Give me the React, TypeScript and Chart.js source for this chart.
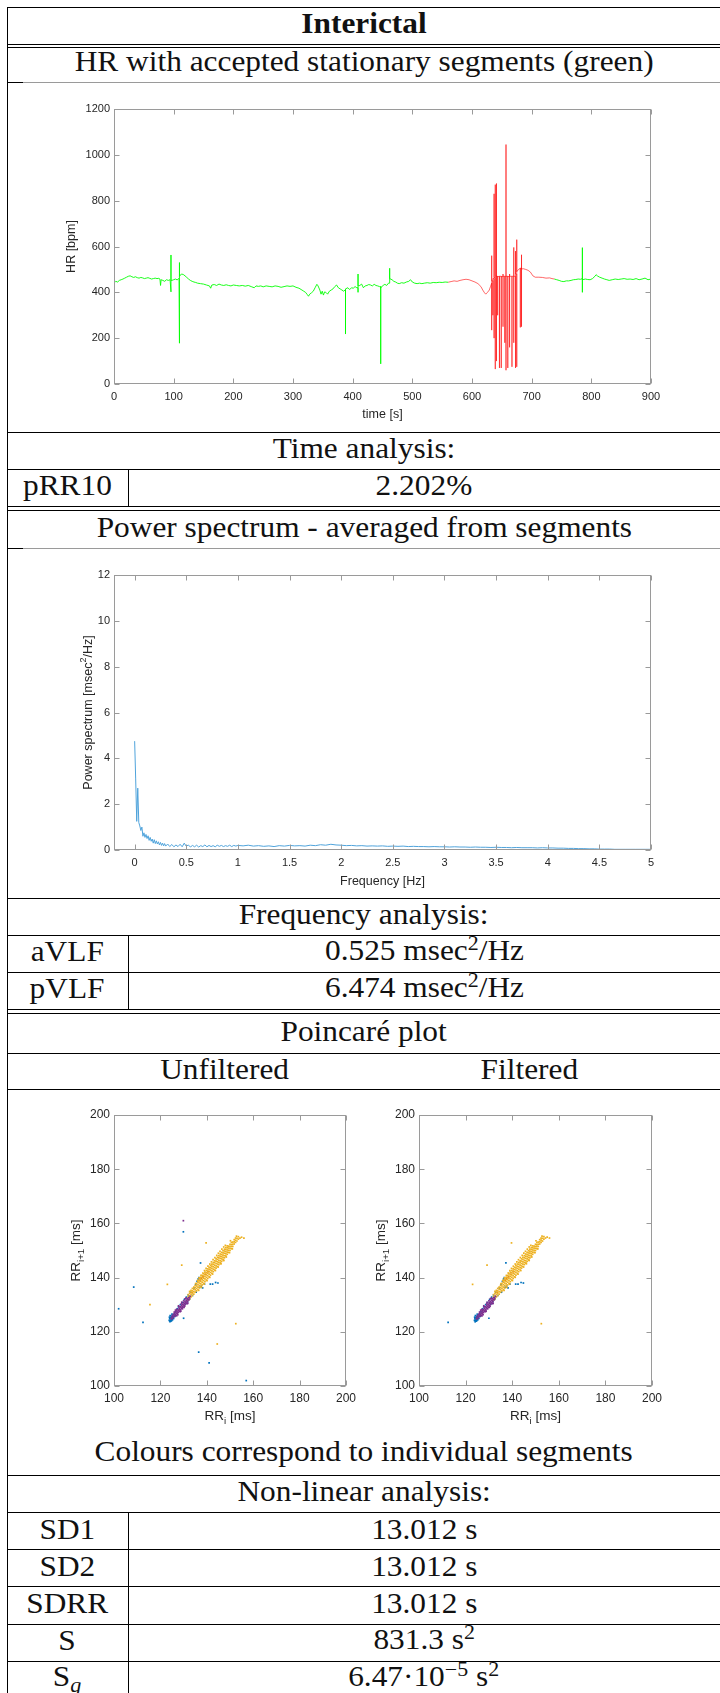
import React, { useEffect, useRef } from 'react';
import { Chart, registerables } from 'chart.js';

Chart.register(...registerables);

// ---------------- DATA ----------------
// HR trace [time s, HR bpm]
const hrGreenA: number[][] = [
  [0,440],[3,448],[6,445],[9,452],[12,455],[15,458],[18,462],[21,466],[24,470],[27,472],[30,468],[33,465],[36,468],[39,464],[42,462],[45,465],[48,463],[51,460],[54,462],[57,464],[60,461],[63,458],[66,460],[69,462],[72,460],[75,461],[77,458],[78,430],[79,455],[82,452],[85,448],[88,455],[91,452],[94,455],[95.5,455],[95.5,563],[95.5,402],[95.5,452],[97,452],[100,455],[103,458],[106,454],[108,460],[109,460],[109,178],[109,530],[110,250],[110,525],[110.5,470],[113,480],[116,478],[119,472],[122,465],[125,458],[128,452],[131,448],[134,445],[137,443],[140,440],[145,438],[150,436],[155,432],[160,428],[162,418],[164,432],[168,434],[172,430],[176,436],[180,432],[184,430],[188,433],[192,430],[196,428],[200,432],[205,430],[210,428],[215,430],[220,427],[225,430],[230,425],[235,420],[238,428],[242,426],[246,428],[250,424],[255,428],[260,426],[265,424],[270,428],[275,426],[280,422],[285,425],[290,428],[295,426],[300,428],[305,422],[310,418],[315,410],[318,405],[321,400],[324,390],[326,383],[328,392],[331,398],[334,405],[337,420],[340,435],[342,428],[345,410],[347,392],[349,405],[351,388],[353,402],[355,400],[358,392],[361,405],[364,410],[367,415],[370,425],[373,432],[376,420],[379,415],[382,410],[385,405],[388,412],[388,218],[388,415],[392,420],[395,412],[398,420],[401,418],[404,425],[407,420],[409,420],[409,480],[409,400],[409,428],[412,430],[415,436],[418,420],[421,428],[424,430],[427,434],[430,432],[433,428],[436,435],[439,430],[442,428],[445,425],[447,425],[447,88],[447,420],[451,430],[454,435],[457,430],[460,440],[462,440],[462,505],[462,460],[466,455],[469,448],[472,445],[475,440],[478,438],[482,442],[486,440],[490,445],[494,448],[497,455],[500,445],[504,440],[508,438],[512,440],[516,438],[520,440],[525,442],[530,440],[535,443],[540,442],[545,444],[550,443],[555,445],[560,444]
];
const hrRed: number[][] = [
  [560,444],[565,447],[570,450],[575,448],[580,452],[585,455],[590,457],[595,455],[600,450],[605,445],[610,438],[615,425],[618,410],[621,398],[623,392],[626,400],[629,410],[631,425],
  [633,440],[633,560],[633,235],[633,450],[635,450],[635,300],[635,460],[637,460],[637,830],[637,200],[637,465],[639,465],[639,870],[639,65],[639,470],[641,470],[641,875],[641,100],[641,470],
  [643,470],[643,300],[643,468],[646,470],[646,70],[646,470],[649,470],[649,70],[649,468],[652,470],[652,480],[652,250],[652,470],[655,470],[655,180],[655,470],[657,470],[657,1045],[657,60],[657,470],
  [660,470],[660,70],[660,468],[663,470],[663,480],[663,160],[663,470],[667,470],[667,75],[667,470],[670,470],[670,596],[670,180],[670,470],[673,470],[673,580],[673,70],[673,480],[675,480],[675,630],[675,75],[675,490],
  [678,500],[681,505],[681,247],[681,505],[683,505],[683,564],[683,250],[683,502],[686,503],[690,500],[694,496],[698,488],[702,472],[706,466],[712,466],[718,465],[724,462],[730,463],[734,460],[738,458]
];
const hrGreenB: number[][] = [
  [738,458],[742,455],[746,452],[750,448],[754,447],[758,450],[762,450],[766,452],[770,455],[774,456],[778,458],[782,457],[785,460],[785,595],[785,400],[785,455],[790,458],[794,456],[798,455],[802,460],[806,470],[808,477],[810,472],[814,466],[818,462],[822,458],[826,455],[830,452],[835,455],[840,458],[845,456],[850,458],[855,460],[860,457],[865,458],[870,456],[875,460],[880,455],[885,458],[890,462],[895,455],[900,458]
];
const hrXTicks = [0, 100, 200, 300, 400, 500, 600, 700, 800, 900];
const hrYTicks = [0, 200, 400, 600, 800, 1000, 1200];

// Power spectrum
const psdFreq: number[] = [
  0,0.01,0.02,0.03,0.04,0.05,0.06,0.07,0.08,0.09,0.1,0.11,0.12,0.13,0.14,0.15,0.16,0.17,0.18,0.19,0.2,0.21,0.22,0.23,0.24,0.25,0.26,0.27,0.28,0.29,0.3,
  0.32,0.34,0.36,0.38,0.4,0.42,0.44,0.46,0.48,0.5,0.52,0.54,0.56,0.58,0.6,0.62,0.64,0.66,0.68,0.7,0.72,0.74,0.76,0.78,0.8,0.82,0.84,0.86,0.88,0.9,0.92,0.94,0.96,0.98,1.0,
  1.05,1.1,1.15,1.2,1.25,1.3,1.35,1.4,1.45,1.5,1.55,1.6,1.65,1.7,1.75,1.8,1.85,1.9,1.95,2.0,2.05,2.1,2.15,2.2,2.25,2.3,2.35,2.4,2.45,2.5,2.55,2.6,2.65,2.7,2.75,2.8,2.85,2.9,2.95,3.0,
  3.05,3.1,3.15,3.2,3.25,3.3,3.35,3.4,3.45,3.5,3.55,3.6,3.65,3.7,3.75,3.8,3.85,3.9,3.95,4.0,4.05,4.1,4.15,4.2,4.25,4.3,4.35,4.4,4.45,4.5,4.55,4.6,4.65,4.7,4.75,4.8,4.85,4.9,4.95,5.0
];
const psdPower: number[] = [
  4.75,3.1,1.25,2.7,1.2,1.05,0.85,1.0,0.6,0.75,0.55,0.68,0.5,0.62,0.42,0.55,0.38,0.48,0.3,0.45,0.28,0.4,0.26,0.36,0.22,0.33,0.2,0.3,0.18,0.28,0.17,
  0.26,0.15,0.24,0.14,0.22,0.15,0.25,0.14,0.3,0.16,0.22,0.13,0.2,0.14,0.21,0.13,0.19,0.15,0.22,0.14,0.2,0.15,0.19,0.14,0.21,0.16,0.2,0.15,0.19,0.16,0.21,0.15,0.2,0.17,0.2,
  0.18,0.21,0.17,0.19,0.16,0.18,0.15,0.19,0.17,0.2,0.18,0.19,0.17,0.21,0.19,0.23,0.21,0.25,0.22,0.21,0.19,0.2,0.18,0.19,0.17,0.18,0.17,0.18,0.16,0.17,0.16,0.17,0.15,0.16,0.15,0.15,0.14,0.15,0.14,0.14,
  0.13,0.14,0.13,0.13,0.12,0.13,0.12,0.12,0.11,0.12,0.11,0.11,0.1,0.11,0.1,0.1,0.1,0.09,0.1,0.09,0.09,0.08,0.08,0.07,0.07,0.06,0.06,0.05,0.05,0.04,0.04,0.04,0.03,0.03,0.03,0.03,0.03,0.03,0.03,0.03
];
const psdXTicks = [0, 0.5, 1, 1.5, 2, 2.5, 3, 3.5, 4, 4.5, 5];
const psdYTicks = [0, 2, 4, 6, 8, 10, 12];

// Poincaré [RR_i, RR_i+1] in ms
const poincareTicks = [100, 120, 140, 160, 180, 200];
const blueCore: number[][] = [
  [123.8,124.2],[124,124.8],[124.1,123.7],[124.3,125.2],[124.4,124.3],[124.5,123.9],[124.6,125.4],[124.7,124.7],[124.8,124.1],[124.9,125.8],[125,125],[125.2,124.4],[125.3,125.7],[125.4,125.2],[125.6,126.3],[125.7,124.9],[125.9,125.8],[126.1,126.6],[126.3,125.7],[123.9,125.4],[124.2,126],[125,126.5],
  [126.6,127.4],[127.3,128.5],[127.8,129.2],[128.6,130],[129.4,130.8],[130.3,131.9],[131.2,132.8],[132,133.6],[130.8,130.2],[131.7,131.1],[132.6,132.1],[133,134.6],[133.8,133.4],[134.5,136.2],[135.2,137.4],[135.8,138.6],[136.3,139.5],[136.9,136.4],[137.6,136.8],[138.2,136.2],[139,137.6],[141.5,137.6],[143.8,138.2],[142.5,137.6],[144.8,138],[135.4,134.6],[136.6,140]
];
const blueKept: number[][] = [[112.5,123.5],[130,125],[137.3,145.4]];
const blueRemoved: number[][] = [[102,128.5],[108.5,136.5],[129.9,156.9],[136.5,112.5],[141,108.5],[157,102]];
const purpleCore: number[][] = [
  [124.6,124.9],[124.9,125.6],[125.1,124.8],[125.3,126.1],[125.5,125.3],[125.7,126.5],[125.9,125.6],[126.1,126.9],[126.2,125.9],[126.4,126.4],[126.6,127.3],[126.7,126.1],[126.9,126.9],[127.1,127.7],[127.2,126.6],[127.4,127.3],[127.6,128.2],[127.7,127.1],[127.9,127.8],[128.1,128.7],[128.2,127.6],[128.4,128.3],[128.6,129.2],[128.7,128.1],[128.9,128.9],[129.1,129.7],[129.2,128.6],[129.4,129.4],[129.6,130.2],[129.7,129.1],[129.9,129.9],[130.1,130.7],[130.2,129.6],[130.4,130.4],[130.6,131.2],[130.7,130.1],[130.9,130.9],[131.1,131.7],[131.2,130.6],[131.4,131.4],[131.6,132.2],[131.7,131.1],[131.9,131.9],[132.1,132.6],[132.3,131.8],[132.5,132.5],[132.8,133.1],
  [127,128.3],[128,129.3],[129,130.3],[130,131.4],[131,132.4],[126,127.3],[128.5,127.4],[129.5,128.5],[130.5,129.5],[131.5,130.4],[127.5,126.3],
  [126.5,128],[127.8,129.6],[129.2,130.9],[130.6,132.2],[127,125.9],[128.8,127.6],[130.2,129],[131.8,130.5]
];
const purpleRemoved: number[][] = [[129.9,161]];
const yellowCore: number[][] = [
  [132,131.8],[132,132.9],[132,133.7],
  [132.6,132.1],[132.6,133.2],[132.6,134.2],[132.6,134.9],
  [133.2,132.9],[133.2,133.8],[133.2,134.6],[133.2,135.3],
  [133.8,133.4],[133.8,134.3],[133.8,135.1],[133.8,136],
  [134.4,133.9],[134.4,134.8],[134.4,135.7],[134.4,136.5],
  [135,134.6],[135,135.5],[135,136.3],[135,137.1],
  [135.6,135.1],[135.6,136],[135.6,136.9],[135.6,137.8],
  [136.2,135.6],[136.2,136.5],[136.2,137.4],[136.2,138.3],[136.2,139],
  [136.8,136.2],[136.8,137.1],[136.8,138],[136.8,138.8],[136.8,139.6],
  [137.4,136.8],[137.4,137.7],[137.4,138.6],[137.4,139.4],[137.4,140.1],
  [138,137.3],[138,138.3],[138,139.2],[138,140],[138,140.8],
  [138.6,137.9],[138.6,138.9],[138.6,139.8],[138.6,140.6],[138.6,141.4],
  [139.2,138.5],[139.2,139.5],[139.2,140.4],[139.2,141.2],[139.2,142],
  [139.8,139.1],[139.8,140.1],[139.8,141],[139.8,141.8],[139.8,142.6],
  [140.4,139.7],[140.4,140.7],[140.4,141.6],[140.4,142.4],[140.4,143.2],
  [141,140.3],[141,141.3],[141,142.2],[141,143],[141,143.8],
  [141.6,140.9],[141.6,141.9],[141.6,142.8],[141.6,143.6],[141.6,144.4],
  [142.2,141.6],[142.2,142.5],[142.2,143.4],[142.2,144.2],[142.2,145],
  [142.8,142.2],[142.8,143.1],[142.8,144],[142.8,144.9],[142.8,145.6],
  [143.4,142.8],[143.4,143.7],[143.4,144.6],[143.4,145.5],[143.4,146.2],
  [144,143.5],[144,144.3],[144,145.2],[144,146.1],[144,146.9],
  [144.6,144.1],[144.6,145],[144.6,145.8],[144.6,146.7],[144.6,147.5],
  [145.2,144.8],[145.2,145.6],[145.2,146.4],[145.2,147.3],[145.2,148.1],
  [145.8,145.4],[145.8,146.2],[145.8,147.1],[145.8,147.9],[145.8,148.7],
  [146.4,146],[146.4,146.9],[146.4,147.7],[146.4,148.5],[146.4,149.3],
  [147,146.7],[147,147.5],[147,148.3],[147,149.1],[147,149.9],
  [147.6,147.3],[147.6,148.1],[147.6,149],[147.6,149.8],[147.6,150.5],
  [148.2,148],[148.2,148.8],[148.2,149.6],[148.2,150.4],[148.2,151.1],
  [148.8,148.6],[148.8,149.4],[148.8,150.2],[148.8,151],[148.8,151.7],
  [149.4,149.3],[149.4,150.1],[149.4,150.9],[149.4,151.6],
  [150,150],[150,150.8],[150,151.5],[150,152.3],
  [150.6,150.7],[150.6,151.5],[150.6,152.2],[150.6,153],
  [151.2,151.5],[151.2,152.3],[151.2,153.1],
  [151.8,152.4],[151.8,153.2],[151.8,154],
  [152.4,153],[152.4,153.8],[152.4,154.6],
  [153,153.5],[153,154.5],[153.6,154.2],[153.6,155.1],[154.3,154.6],[155,154.9],[156,154.6],
  [150.2,153.6],[152.8,155.3],[151,150.6],[149.8,149.2],[148.4,147.6],[147.2,146.4],[146,145.3],
  [135.2,137.8],[136,138.9],[136.7,139.9],[137.5,140.8],[138.3,141.7],[139,142.6],[139.7,143.4],[140.5,144.2],[141.3,145],[142,145.8],[142.7,146.6],[143.5,147.4],[144.3,148.2],[145,149],[145.7,149.7],[146.5,150.5],[147.3,151.3],[148,151.9],
  [136.5,135.3],[137.7,136.4],[138.9,137.6],[140.1,138.9],[141.3,140.1],[142.5,141.3],[143.7,142.6],[144.9,143.9],[146.1,145.1],[147.3,146.3]
];
const yellowKept: number[][] = [[123,137.5],[129.2,144.6],[139.7,152.8],[152.5,123]];
const yellowRemoved: number[][] = [[115.5,130],[144.5,115.5]];
const redCore: number[][] = [[137,139],[137.6,139.8],[138.4,140.3],[139.4,141.2],[140.5,142.2],[133.6,134.5]];

// ---------------- CHART HELPERS ----------------
const SANS = "'Liberation Sans', Arial, sans-serif";
const toXY = (arr: number[][]) => arr.map(p => ({ x: p[0], y: p[1] }));

type Seg = { t: string; sub?: boolean; sup?: boolean };

function drawRich(ctx: CanvasRenderingContext2D, segs: Seg[], cx: number, cy: number, size: number) {
  const parts = segs.map(sg => {
    const fs = sg.sub || sg.sup ? size * 0.72 : size;
    ctx.font = `${fs}px ${SANS}`;
    return { ...sg, fs, w: ctx.measureText(sg.t).width };
  });
  const total = parts.reduce((a, p) => a + p.w, 0);
  let x = cx - total / 2;
  ctx.textAlign = 'left';
  ctx.textBaseline = 'alphabetic';
  const base = cy + size * 0.36;
  for (const p of parts) {
    ctx.font = `${p.fs}px ${SANS}`;
    const dy = p.sub ? size * 0.28 : p.sup ? -size * 0.42 : 0;
    ctx.fillText(p.t, x, base + dy);
    x += p.w;
  }
}

function MatlabChart({ spec }: { spec: any }) {
  const ref = useRef<HTMLCanvasElement>(null);
  useEffect(() => {
    const s = spec;
    const canvas = ref.current as HTMLCanvasElement;
    const plugin = {
      id: 'matlabAxes',
      afterDraw(chart: any) {
        const ctx = chart.ctx as CanvasRenderingContext2D;
        const a = chart.chartArea;
        ctx.save();
        ctx.strokeStyle = '#9a9a9a';
        ctx.lineWidth = 1;
        const L = Math.round(a.left) + 0.5, R = Math.round(a.right) - 0.5;
        const T = Math.round(a.top) + 0.5, B = Math.round(a.bottom) - 0.5;
        ctx.strokeRect(L, T, R - L, B - T);
        const tl = 5;
        ctx.beginPath();
        for (const t of chart.scales.x.ticks) {
          const px = Math.round(chart.scales.x.getPixelForValue(t.value)) + 0.5;
          ctx.moveTo(px, B); ctx.lineTo(px, B - tl);
          ctx.moveTo(px, T); ctx.lineTo(px, T + tl);
        }
        for (const t of chart.scales.y.ticks) {
          const py = Math.round(chart.scales.y.getPixelForValue(t.value)) + 0.5;
          ctx.moveTo(L, py); ctx.lineTo(L + tl, py);
          ctx.moveTo(R, py); ctx.lineTo(R - tl, py);
        }
        ctx.stroke();
        ctx.fillStyle = '#262626';
        drawRich(ctx, s.xLabel, (a.left + a.right) / 2, s.xLabelY - s.box.top, s.labelFont);
        ctx.save();
        ctx.translate(s.yLabelX - s.box.left, (a.top + a.bottom) / 2);
        ctx.rotate(-Math.PI / 2);
        drawRich(ctx, s.yLabel, 0, 0, s.labelFont);
        ctx.restore();
        ctx.restore();
      }
    };
    const tickFont = { family: SANS, size: s.tickFont };
    const chart = new Chart(canvas, {
      type: s.type,
      data: { datasets: s.datasets },
      options: {
        animation: false,
        responsive: false,
        devicePixelRatio: 1,
        events: [],
        layout: { padding: { top: s.plot.top - s.box.top, right: s.box.left + s.box.width - s.plot.right, left: 0, bottom: 0 } },
        plugins: { legend: { display: false }, tooltip: { enabled: false }, title: { display: false } },
        scales: {
          x: {
            type: 'linear', min: s.xMin, max: s.xMax,
            grid: { display: false, drawTicks: false }, border: { display: false },
            afterFit: (sc: any) => { sc.height = s.box.top + s.box.height - s.plot.bottom; },
            afterBuildTicks: (sc: any) => { sc.ticks = s.xTicks.map((v: number) => ({ value: v })); },
            ticks: { autoSkip: false, maxRotation: 0, minRotation: 0, padding: s.xTickPad, color: '#262626', font: tickFont, callback: (v: any) => String(v) }
          },
          y: {
            type: 'linear', min: s.yMin, max: s.yMax,
            grid: { display: false, drawTicks: false }, border: { display: false },
            afterFit: (sc: any) => { sc.width = s.plot.left - s.box.left; },
            afterBuildTicks: (sc: any) => { sc.ticks = s.yTicks.map((v: number) => ({ value: v })); },
            ticks: { autoSkip: false, padding: s.yTickPad, color: '#262626', font: tickFont, callback: (v: any) => String(v) }
          }
        }
      } as any,
      plugins: [plugin]
    } as any);
    return () => chart.destroy();
  }, [spec]);
  return (
    <canvas
      ref={ref}
      width={spec.box.width}
      height={spec.box.height}
      style={{ position: 'absolute', left: spec.box.left, top: spec.box.top, width: spec.box.width, height: spec.box.height }}
    />
  );
}

const lineDs = (arr: number[][], color: string, width: number) => ({
  data: toXY(arr), borderColor: color, borderWidth: width, pointRadius: 0, tension: 0, fill: false
});
const dotDs = (arr: number[][], color: string, order: number) => ({
  data: toXY(arr), backgroundColor: color, borderWidth: 0, pointRadius: 1.2, pointStyle: 'rect', order
});

const BLUE = '#0072BD', PURPLE = '#7E2F8E', YELLOW = '#EDB120', RED = '#D95319';

const hrSpec = {
  type: 'line',
  box: { left: 30, top: 92, width: 660, height: 335 },
  plot: { left: 114, top: 109, right: 651, bottom: 384 },
  xMin: 0, xMax: 900, yMin: 0, yMax: 1200, xTicks: hrXTicks, yTicks: hrYTicks,
  tickFont: 11, labelFont: 12.5, xTickPad: 6, yTickPad: 4,
  xLabel: [{ t: 'time [s]' }], yLabel: [{ t: 'HR [bpm]' }], xLabelY: 413, yLabelX: 70,
  datasets: [lineDs(hrGreenA, '#00FF00', 0.9), lineDs(hrRed, '#FF0000', 0.6), lineDs(hrGreenB, '#00FF00', 0.9)]
};

const psdSpec = {
  type: 'line',
  box: { left: 30, top: 555, width: 660, height: 338 },
  plot: { left: 114, top: 575, right: 651, bottom: 850 },
  xMin: -0.2, xMax: 5, yMin: 0, yMax: 12, xTicks: psdXTicks, yTicks: psdYTicks,
  tickFont: 11, labelFont: 12.5, xTickPad: 6, yTickPad: 4,
  xLabel: [{ t: 'Frequency [Hz]' }], yLabel: [{ t: 'Power spectrum [msec' }, { t: '2', sup: true }, { t: '/Hz]' }],
  xLabelY: 880, yLabelX: 87,
  datasets: [lineDs(psdFreq.map((f, i) => [f, psdPower[i]]), '#4FA3DB', 1)]
};

const poincareSpec = (left: number, plotLeft: number, plotRight: number, yLabelX: number, filtered: boolean) => ({
  type: 'scatter',
  box: { left, top: 1095, width: 345, height: 345 },
  plot: { left: plotLeft, top: 1115, right: plotRight, bottom: 1386 },
  xMin: 100, xMax: 200, yMin: 100, yMax: 200, xTicks: poincareTicks, yTicks: poincareTicks,
  tickFont: 12, labelFont: 13.5, xTickPad: 5, yTickPad: 4,
  xLabel: [{ t: 'RR' }, { t: 'i', sub: true }, { t: ' [ms]' }],
  yLabel: [{ t: 'RR' }, { t: 'i+1', sub: true }, { t: ' [ms]' }],
  xLabelY: 1415, yLabelX,
  datasets: [
    dotDs(filtered ? purpleCore : [...purpleCore, ...purpleRemoved], PURPLE, 1),
    dotDs(filtered ? [...yellowCore, ...yellowKept] : [...yellowCore, ...yellowKept, ...yellowRemoved], YELLOW, 2),
    dotDs(redCore, RED, 3),
    dotDs(filtered ? [...blueCore, ...blueKept] : [...blueCore, ...blueKept, ...blueRemoved], BLUE, 4)
  ]
});
const poincareLeftSpec = poincareSpec(30, 114, 346, 75, false);
const poincareRightSpec = poincareSpec(340, 419, 652, 380, true);

// ---------------- TABLE HELPERS ----------------
const SERIF = "'Liberation Serif', 'Times New Roman', serif";
const STRETCH = 1.1;

function HLine({ y, x1 = 7, x2 = 722, color = '#000', h = 1 }: any) {
  return <div style={{ position: 'absolute', left: x1, top: y, width: x2 - x1, height: h, background: color }} />;
}
function VLine({ x, y1, y2, color = '#000' }: any) {
  return <div style={{ position: 'absolute', left: x, top: y1, width: 1, height: y2 - y1, background: color }} />;
}
function Txt({ cx, cy, bold, children }: any) {
  return (
    <div style={{ position: 'absolute', left: cx - 400, width: 800, top: cy - 25, height: 50, display: 'flex', alignItems: 'center', justifyContent: 'center' }}>
      <span style={{ display: 'inline-block', whiteSpace: 'nowrap', fontFamily: SERIF, fontSize: 28.5, fontWeight: bold ? 'bold' : 'normal', lineHeight: '34px', color: '#111', transform: `scaleX(${STRETCH})` }}>
        {children}
      </span>
    </div>
  );
}
const Sup = ({ children }: any) => <span style={{ fontSize: '0.7em', position: 'relative', top: '-0.5em' }}>{children}</span>;
const Sub = ({ children }: any) => <span style={{ fontSize: '0.7em', position: 'relative', top: '0.3em' }}>{children}</span>;

const MID = 364;   // centre of full-width rows
const COL1 = 67;   // centre of first column
const COL2 = 424;  // centre of second column

export default function App() {
  return (
    <div style={{ position: 'absolute', left: 0, top: 0, width: 720, height: 1693, overflow: 'hidden', background: '#fff' }}>
      {/* horizontal rules */}
      <HLine y={7} />
      <HLine y={44} />
      <HLine y={47} />
      <HLine y={82} x1={7} x2={23} />
      <HLine y={82} x1={23} color="#9a9a9a" />
      <HLine y={432} />
      <HLine y={469} />
      <HLine y={506} />
      <HLine y={510} />
      <HLine y={548} x1={7} x2={23} />
      <HLine y={548} x1={23} color="#9a9a9a" />
      <HLine y={898} />
      <HLine y={935} />
      <HLine y={972} />
      <HLine y={1009} />
      <HLine y={1013} />
      <HLine y={1053} />
      <HLine y={1089} />
      <HLine y={1475} />
      <HLine y={1512} />
      <HLine y={1549} />
      <HLine y={1586} />
      <HLine y={1624} />
      <HLine y={1661} />
      {/* vertical rules */}
      <VLine x={7} y1={7} y2={1693} />
      <VLine x={128} y1={469} y2={506} />
      <VLine x={128} y1={935} y2={1009} />
      <VLine x={128} y1={1512} y2={1693} />

      {/* texts */}
      <Txt cx={MID} cy={24} bold>Interictal</Txt>
      <Txt cx={MID} cy={62}>HR with accepted stationary segments (green)</Txt>
      <Txt cx={MID} cy={449}>Time analysis:</Txt>
      <Txt cx={COL1} cy={486}>pRR10</Txt>
      <Txt cx={COL2} cy={486}>2.202%</Txt>
      <Txt cx={MID} cy={527.5}>Power spectrum - averaged from segments</Txt>
      <Txt cx={MID} cy={915}>Frequency analysis:</Txt>
      <Txt cx={COL1} cy={952}>aVLF</Txt>
      <Txt cx={COL2} cy={952}>0.525 msec<Sup>2</Sup>/Hz</Txt>
      <Txt cx={COL1} cy={989}>pVLF</Txt>
      <Txt cx={COL2} cy={989}>6.474 msec<Sup>2</Sup>/Hz</Txt>
      <Txt cx={MID} cy={1031.5}>Poincaré plot</Txt>
      <Txt cx={225} cy={1069.5}>Unfiltered</Txt>
      <Txt cx={529} cy={1069.5}>Filtered</Txt>
      <Txt cx={MID} cy={1452}>Colours correspond to individual segments</Txt>
      <Txt cx={MID} cy={1491.5}>Non-linear analysis:</Txt>
      <Txt cx={COL1} cy={1529.5}>SD1</Txt>
      <Txt cx={COL2} cy={1529.5}>13.012 s</Txt>
      <Txt cx={COL1} cy={1566.5}>SD2</Txt>
      <Txt cx={COL2} cy={1566.5}>13.012 s</Txt>
      <Txt cx={COL1} cy={1604}>SDRR</Txt>
      <Txt cx={COL2} cy={1604}>13.012 s</Txt>
      <Txt cx={COL1} cy={1641}>S</Txt>
      <Txt cx={COL2} cy={1641}>831.3 s<Sup>2</Sup></Txt>
      <Txt cx={COL1} cy={1678}>S<Sub><i>q</i></Sub></Txt>
      <Txt cx={COL2} cy={1678}>6.47·10<Sup>−5</Sup> s<Sup>2</Sup></Txt>

      {/* charts */}
      <MatlabChart spec={hrSpec} />
      <MatlabChart spec={psdSpec} />
      <MatlabChart spec={poincareLeftSpec} />
      <MatlabChart spec={poincareRightSpec} />
    </div>
  );
}
